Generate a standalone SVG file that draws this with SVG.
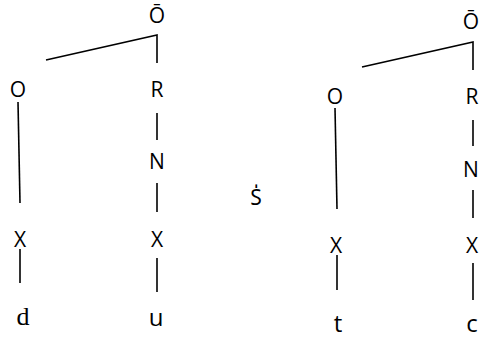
<svg xmlns="http://www.w3.org/2000/svg" width="480" height="339" viewBox="0 0 480 339">
<style>
.n{font-family:"Open Sans","Noto Sans","DejaVu Sans",sans-serif;font-size:21px;fill:#000;text-anchor:middle}
.l{font-family:"Open Sans","Noto Sans","DejaVu Sans",sans-serif;font-size:24px;fill:#000;text-anchor:middle}
.s{font-family:"Liberation Serif","Times New Roman",serif;font-size:26px;fill:#000;text-anchor:middle}
.e{stroke:#000;stroke-width:1.6;fill:none}
</style>
<rect width="480" height="339" fill="#fff"/>
<g id="connectors">
<polyline class="e" points="46,60 157,35 157,63"/>
<line class="e" x1="18" y1="102" x2="20" y2="203"/>
<line class="e" x1="157" y1="113" x2="157" y2="140"/>
<line class="e" x1="157" y1="183" x2="157" y2="212"/>
<line class="e" x1="20" y1="249" x2="20" y2="283"/>
<line class="e" x1="157" y1="258" x2="157" y2="292"/>
<polyline class="e" points="362,67 473,42 473,70"/>
<line class="e" x1="335" y1="108" x2="337" y2="209"/>
<line class="e" x1="473" y1="120" x2="473" y2="146"/>
<line class="e" x1="473" y1="190" x2="473" y2="218"/>
<line class="e" x1="337" y1="255" x2="337" y2="290"/>
<line class="e" x1="473" y1="263" x2="473" y2="300"/>
</g>
<g id="t1-root"><text class="n" x="157" y="23">Ō</text></g>
<g id="t1-onset"><text class="n" x="18" y="97">O</text></g>
<g id="t1-rhyme"><text class="n" x="157" y="97">R</text></g>
<g id="t1-nucleus"><text class="n" x="157" y="169">N</text></g>
<g id="t1-x1"><text class="n" x="20" y="247">X</text></g>
<g id="t1-x2"><text class="n" x="157" y="247">X</text></g>
<g id="t1-d"><text class="s" x="23" y="325">d</text></g>
<g id="t1-u"><text class="l" x="156" y="326">u</text></g>
<g id="sep"><text class="n" x="256" y="205">S̍</text></g>
<g id="t2-root"><text class="n" x="471" y="29">Ō</text></g>
<g id="t2-onset"><text class="n" x="335" y="104">O</text></g>
<g id="t2-rhyme"><text class="n" x="472" y="104">R</text></g>
<g id="t2-nucleus"><text class="n" x="471" y="177">N</text></g>
<g id="t2-x1"><text class="n" x="336" y="253">X</text></g>
<g id="t2-x2"><text class="n" x="472" y="253">X</text></g>
<g id="t2-t"><text class="l" x="338" y="332">t</text></g>
<g id="t2-c"><text class="l" x="472" y="332">c</text></g>
</svg>
